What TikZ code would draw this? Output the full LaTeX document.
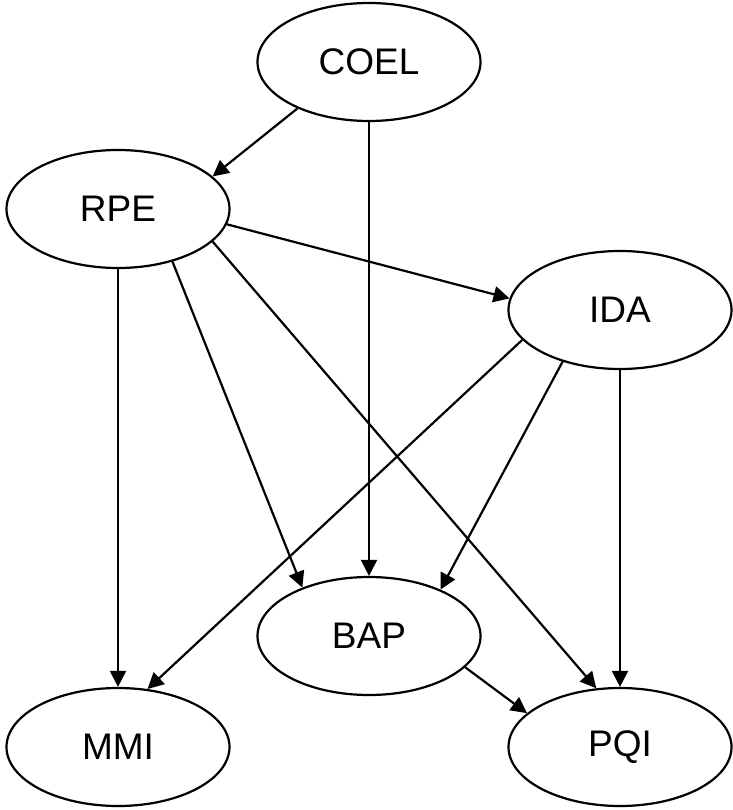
\documentclass[tikz,border=0pt]{standalone}
\usepackage{fontspec}
\setmainfont{Liberation Sans}
\usetikzlibrary{shapes.geometric,arrows.meta}
\begin{document}
\begin{tikzpicture}[x=1pt,y=-1pt,
  ell/.style={draw,ellipse,line width=2.2pt,minimum width=223pt,minimum height=118pt,inner sep=0pt,font=\fontsize{37}{40}\selectfont},
  arr/.style={line width=2.2pt,-{Triangle[length=16pt,width=16pt]}}]
\useasboundingbox (0,0) rectangle (732,810);
\node[ell] (COEL) at (369,62) {COEL};
\node[ell] (RPE) at (118,209) {RPE};
\node[ell] (IDA) at (620,310) {IDA};
\node[ell] (BAP) at (369,636) {BAP};
\node[ell] (MMI) at (118,747) {MMI};
\node[ell] (PQI) at (620,747) {PQI};
\draw[arr] (COEL.213.3) -- (RPE.19.9);
\draw[arr] (COEL.-90) -- (BAP.90);
\draw[arr] (RPE.-8.1) -- (IDA.174.9);
\draw[arr] (RPE.-90) -- (MMI.90);
\draw[arr] (RPE.-44.5) -- (BAP.144.1);
\draw[arr] (RPE.-19.3) -- (PQI.112.1);
\draw[arr] (IDA.197.2) -- (MMI.63);
\draw[arr] (IDA.222.4) -- (BAP.33.5);
\draw[arr] (IDA.-90) -- (PQI.90);
\draw[arr] (BAP.-18.4) -- (PQI.160.7);
\end{tikzpicture}
\end{document}
